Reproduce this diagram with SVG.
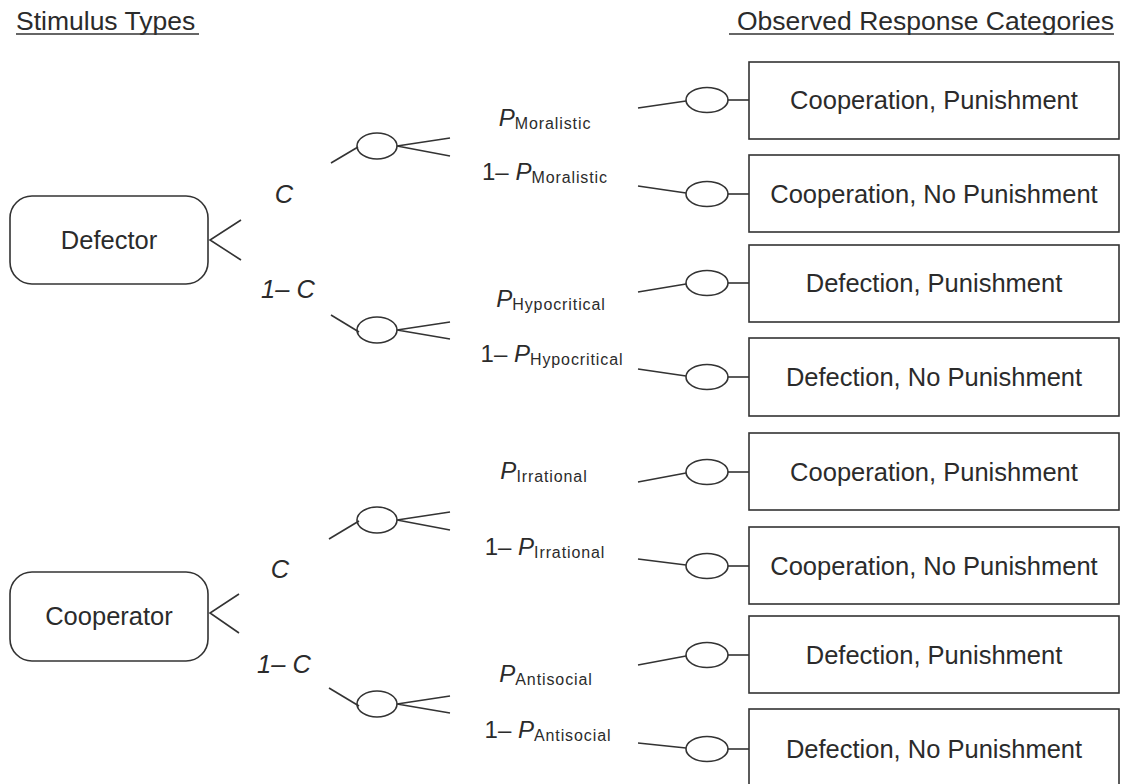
<svg xmlns="http://www.w3.org/2000/svg" width="1124" height="784" viewBox="0 0 1124 784">
<style>
text{font-family:"Liberation Sans",Arial,Helvetica,sans-serif;fill:#2b2b2b}
.title{font-size:26.5px}
.lbl{font-size:25.5px}
.big{font-size:25.5px}
.it{font-style:italic}
.p{font-size:24px}
.sub{font-size:16px;letter-spacing:0.9px}
.ln{stroke:#333;stroke-width:1.6;fill:none}
.box{fill:#fff;stroke:#333;stroke-width:1.6}
</style>
<rect width="1124" height="784" fill="#fff"/>
<g id="titles">
<text class="title" x="16" y="30">Stimulus Types</text>
<line class="ln" x1="16" y1="34" x2="199" y2="34"/>
<text class="title" x="1114" y="30" text-anchor="end">Observed Response Categories</text>
<line class="ln" x1="729" y1="34" x2="1114" y2="34"/>
</g>
<g id="defector">
<rect class="box" x="10" y="196" width="198" height="88" rx="22"/>
<text class="lbl" x="109" y="249" text-anchor="middle">Defector</text>
</g>
<g id="cooperator">
<rect class="box" x="10" y="572" width="198" height="89" rx="22"/>
<text class="lbl" x="109" y="625" text-anchor="middle">Cooperator</text>
</g>
<g id="chance-nodes">
<ellipse class="ln" cx="377" cy="146" rx="20" ry="13"/>
<ellipse class="ln" cx="377" cy="330" rx="20" ry="13"/>
<ellipse class="ln" cx="377" cy="520" rx="20" ry="13"/>
<ellipse class="ln" cx="377" cy="704" rx="20" ry="13"/>
</g>
<g id="outcome-nodes">
<ellipse class="ln" cx="707" cy="100" rx="21" ry="12.5"/>
<ellipse class="ln" cx="707" cy="194" rx="21" ry="12.5"/>
<ellipse class="ln" cx="707" cy="283" rx="21" ry="12.5"/>
<ellipse class="ln" cx="707" cy="377" rx="21" ry="12.5"/>
<ellipse class="ln" cx="707" cy="472" rx="21" ry="12.5"/>
<ellipse class="ln" cx="707" cy="566" rx="21" ry="12.5"/>
<ellipse class="ln" cx="707" cy="655" rx="21" ry="12.5"/>
<ellipse class="ln" cx="707" cy="749" rx="21" ry="12.5"/>
</g>
<g id="response-boxes">
<g id="r1"><rect class="box" x="749" y="62" width="370" height="77"/><text class="big" x="934" y="109" text-anchor="middle">Cooperation, Punishment</text></g>
<g id="r2"><rect class="box" x="749" y="155" width="370" height="77"/><text class="big" x="934" y="203" text-anchor="middle">Cooperation, No Punishment</text></g>
<g id="r3"><rect class="box" x="749" y="245" width="370" height="77"/><text class="big" x="934" y="292" text-anchor="middle">Defection, Punishment</text></g>
<g id="r4"><rect class="box" x="749" y="338" width="370" height="78"/><text class="big" x="934" y="386" text-anchor="middle">Defection, No Punishment</text></g>
<g id="r5"><rect class="box" x="749" y="433" width="370" height="77"/><text class="big" x="934" y="481" text-anchor="middle">Cooperation, Punishment</text></g>
<g id="r6"><rect class="box" x="749" y="527" width="370" height="77"/><text class="big" x="934" y="575" text-anchor="middle">Cooperation, No Punishment</text></g>
<g id="r7"><rect class="box" x="749" y="616" width="370" height="77"/><text class="big" x="934" y="664" text-anchor="middle">Defection, Punishment</text></g>
<g id="r8"><rect class="box" x="749" y="709" width="370" height="78"/><text class="big" x="934" y="758" text-anchor="middle">Defection, No Punishment</text></g>
</g>
<g id="connectors">
<polyline class="ln" points="241,220 210,240 241,260"/>
<polyline class="ln" points="239,594 210,613 239,633"/>
<line class="ln" x1="331" y1="163" x2="358" y2="147"/>
<line class="ln" x1="331" y1="315" x2="359" y2="332"/>
<line class="ln" x1="329" y1="539" x2="359" y2="521"/>
<line class="ln" x1="329" y1="688" x2="359" y2="706"/>
<polyline class="ln" points="450,138 397,146 450,156"/>
<polyline class="ln" points="450,322 397,330 450,339"/>
<polyline class="ln" points="450,512 397,520 450,530"/>
<polyline class="ln" points="450,696 397,704 450,713"/>
<line class="ln" x1="638" y1="108" x2="686" y2="101"/>
<line class="ln" x1="638" y1="186" x2="686" y2="193"/>
<line class="ln" x1="638" y1="292" x2="686" y2="284"/>
<line class="ln" x1="638" y1="369" x2="686" y2="376"/>
<line class="ln" x1="638" y1="482" x2="686" y2="473"/>
<line class="ln" x1="638" y1="559" x2="686" y2="565"/>
<line class="ln" x1="638" y1="665" x2="686" y2="656"/>
<line class="ln" x1="638" y1="743" x2="686" y2="748"/>
<line class="ln" x1="728" y1="100" x2="749" y2="100"/>
<line class="ln" x1="728" y1="194" x2="749" y2="194"/>
<line class="ln" x1="728" y1="283" x2="749" y2="283"/>
<line class="ln" x1="728" y1="377" x2="749" y2="377"/>
<line class="ln" x1="728" y1="472" x2="749" y2="472"/>
<line class="ln" x1="728" y1="566" x2="749" y2="566"/>
<line class="ln" x1="728" y1="655" x2="749" y2="655"/>
<line class="ln" x1="728" y1="749" x2="749" y2="749"/>
</g>
<g id="branch-labels">
<text class="lbl it" x="284" y="203" text-anchor="middle">C</text>
<text class="lbl it" x="288" y="298" text-anchor="middle">1– C</text>
<text class="lbl it" x="280" y="578" text-anchor="middle">C</text>
<text class="lbl it" x="284" y="673" text-anchor="middle">1– C</text>
<text class="p" x="545" y="126" text-anchor="middle"><tspan class="it">P</tspan><tspan class="sub" dy="3">Moralistic</tspan></text>
<text class="p" x="545" y="180" text-anchor="middle">1– <tspan class="it">P</tspan><tspan class="sub" dy="3">Moralistic</tspan></text>
<text class="p" x="551" y="307" text-anchor="middle"><tspan class="it">P</tspan><tspan class="sub" dy="3">Hypocritical</tspan></text>
<text class="p" x="552" y="362" text-anchor="middle">1– <tspan class="it">P</tspan><tspan class="sub" dy="3">Hypocritical</tspan></text>
<text class="p" x="544" y="479" text-anchor="middle"><tspan class="it">P</tspan><tspan class="sub" dy="3">Irrational</tspan></text>
<text class="p" x="545" y="555" text-anchor="middle">1– <tspan class="it">P</tspan><tspan class="sub" dy="3">Irrational</tspan></text>
<text class="p" x="546" y="682" text-anchor="middle"><tspan class="it">P</tspan><tspan class="sub" dy="3">Antisocial</tspan></text>
<text class="p" x="548" y="738" text-anchor="middle">1– <tspan class="it">P</tspan><tspan class="sub" dy="3">Antisocial</tspan></text>
</g>
</svg>
